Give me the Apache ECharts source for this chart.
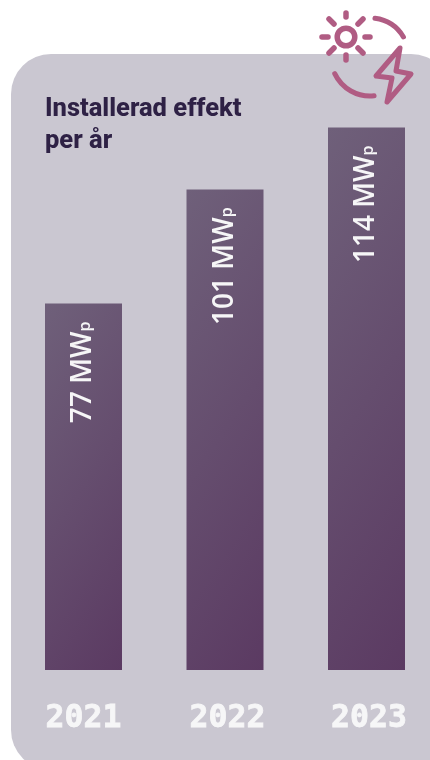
<!DOCTYPE html>
<html><head><meta charset="utf-8">
<style>html,body{margin:0;padding:0;background:#fff}#c{width:430px;height:760px}</style>
<script src="https://cdn.jsdelivr.net/npm/echarts@6/dist/echarts.min.js"></script></head>
<body><div id="c"></div>
<script>
const years = ['2021', '2022', '2023'];
const values = [77, 101, 114];
const unitMain = 'MW';
const unitSub = 'p';
const titleText = 'Installerad effekt\nper år';

const chart = echarts.init(document.getElementById('c'), null, {renderer: 'canvas'});
const iconColor = '#b05c83';
const iconStroke = {stroke: iconColor, lineWidth: 5, lineCap: 'round', lineJoin: 'round', fill: null};
const sunStroke = Object.assign({}, iconStroke, {lineWidth: 5.5});
const rays = [[346,13,346,17],[346,55,346,60],[322,37,328,37],[365,37,370,37],[329,19,334,24],[358,48,363,53],[329,53,334,48],[358,24,363,19]];
const rad = d => d * Math.PI / 180;
const pxPerUnit = 571 / 120, barW = 77, skew = 1.5;
function barGradient(v) {
  const h = v * pxPerUnit, b = (barW * skew + h) / (skew * skew + 1), a = skew * b;
  return {type: 'linear', x: 0, y: 0, x2: a / barW, y2: b / h, colorStops: [{offset: 0, color: '#6f607a'}, {offset: 1, color: '#5b3a62'}]};
}
const numFont = {color: '#f6f6f7', fontFamily: 'DejaVu Sans Mono', fontWeight: 700, fontSize: 31.5, textBorderColor: '#f6f6f7', textBorderWidth: 0.8};
chart.setOption({
  animation: false,
  title: {text: titleText, left: 45, top: 94, padding: 0, textStyle: {fontFamily: 'Roboto', fontWeight: 800, fontSize: 25.5, lineHeight: 32, color: '#2e2145'}},
  graphic: {elements: [
    {type: 'rect', z: -10, silent: true, shape: {x: 11, y: 54, width: 440, height: 716, r: 40}, style: {fill: '#cac7d1'}},
    {type: 'circle', z: 10, silent: true, shape: {cx: 346, cy: 37, r: 8.8}, style: sunStroke},
    ...rays.map(r => ({type: 'line', z: 10, silent: true, shape: {x1: r[0], y1: r[1], x2: r[2], y2: r[3]}, style: sunStroke})),
    {type: 'arc', z: 10, silent: true, shape: {cx: 370, cy: 57, r: 39, startAngle: rad(-82.7), endAngle: rad(-31), clockwise: true}, style: iconStroke},
    {type: 'arc', z: 10, silent: true, shape: {cx: 370, cy: 57, r: 39, startAngle: rad(84), endAngle: rad(154.7), clockwise: true}, style: iconStroke},
    {type: 'polygon', z: 10, silent: true, shape: {points: [[400,48],[376,76],[392,78],[387,102],[411,74],[396,71]]}, style: iconStroke}
  ]},
  grid: {left: 83.5, top: 99, width: 283, height: 571},
  xAxis: {type: 'category', data: years, boundaryGap: false, axisLine: {show: false}, axisTick: {show: false}, splitLine: {show: false},
    axisLabel: {margin: 33, interval: 0, showMinLabel: true, showMaxLabel: true,
      formatter: (v, i) => '{' + (i === 0 ? 'a' : 'b') + '|' + v + '}',
      rich: {a: numFont, b: Object.assign({}, numFont, {padding: [0, 0, 0, 5]})}}},
  yAxis: {type: 'value', min: 0, max: 120, show: false},
  series: [{type: 'bar', barWidth: barW, clip: false,
    data: values.map(v => ({value: v, itemStyle: {color: barGradient(v)}})),
    label: {show: true, position: 'insideTop', distance: 20, rotate: 90, align: 'right', verticalAlign: 'middle', offset: [2, 0],
      formatter: p => p.value + ' ' + unitMain + '{s|' + unitSub + '}',
      color: '#f6f6f7', fontFamily: 'Open Sans', fontSize: 28, fontWeight: 600,
      rich: {s: {fontFamily: 'Open Sans', fontSize: 16, color: '#f6f6f7', verticalAlign: 'bottom', padding: [0,0,4,0]}}}
  }]
});
</script></body></html>
